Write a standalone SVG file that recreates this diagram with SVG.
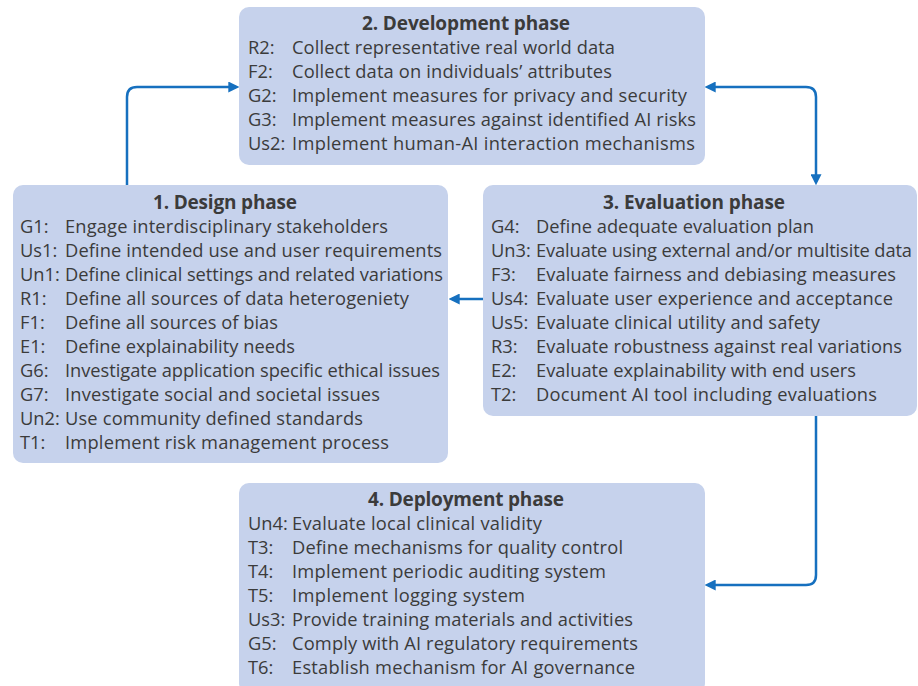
<svg xmlns="http://www.w3.org/2000/svg" width="918" height="686" viewBox="0 0 918 686">
<style>
.box{fill:#c6d2ec}
.t{font-family:"Open Sans","Noto Sans","Liberation Sans",sans-serif;font-size:18.3px;fill:#3b3b3b}
.h{font-family:"Open Sans","Noto Sans","Liberation Sans",sans-serif;font-size:19px;font-weight:bold;fill:#3b3b3b;text-anchor:middle}
.c{fill:none;stroke:#1670bf;stroke-width:2.5}
</style>
<defs>
<marker id="ah" viewBox="0 0 10 10" markerWidth="11" markerHeight="11" markerUnits="userSpaceOnUse" refX="7" refY="5" orient="auto-start-reverse">
<path d="M0,0 L10,5 L0,10 z" fill="#1670bf"/>
</marker>
</defs>
<rect width="918" height="686" fill="#ffffff"/>
<g id="connectors">
<path class="c" d="M127,185 V97 Q127,87 137,87 H236" marker-end="url(#ah)"/>
<path class="c" d="M708,87 H806 Q816,87 816,97 V182" marker-start="url(#ah)" marker-end="url(#ah)"/>
<path class="c" d="M483,299 H452" marker-end="url(#ah)"/>
<path class="c" d="M816,416 V575 Q816,585 806,585 H708" marker-end="url(#ah)"/>
</g>
<g id="development">
<rect class="box" x="239" y="7" width="466" height="158" rx="10"/>
<text class="h" x="466" y="30" textLength="208">2. Development phase</text>
<text class="t" x="248" y="54">R2:</text><text class="t" x="292" y="54" textLength="323">Collect representative real world data</text>
<text class="t" x="248" y="78">F2:</text><text class="t" x="292" y="78" textLength="320">Collect data on individuals’ attributes</text>
<text class="t" x="248" y="102">G2:</text><text class="t" x="292" y="102" textLength="395">Implement measures for privacy and security</text>
<text class="t" x="248" y="126">G3:</text><text class="t" x="292" y="126" textLength="404">Implement measures against identified AI risks</text>
<text class="t" x="248" y="150">Us2:</text><text class="t" x="292" y="150" textLength="403">Implement human-AI interaction mechanisms</text>
</g>
<g id="design">
<rect class="box" x="13" y="185" width="435" height="278" rx="10"/>
<text class="h" x="225" y="209" textLength="144">1. Design phase</text>
<text class="t" x="20" y="233">G1:</text><text class="t" x="65" y="233" textLength="323">Engage interdisciplinary stakeholders</text>
<text class="t" x="20" y="257">Us1:</text><text class="t" x="65" y="257" textLength="377">Define intended use and user requirements</text>
<text class="t" x="20" y="281">Un1:</text><text class="t" x="65" y="281" textLength="378">Define clinical settings and related variations</text>
<text class="t" x="20" y="305">R1:</text><text class="t" x="65" y="305" textLength="344">Define all sources of data heterogeniety</text>
<text class="t" x="20" y="329">F1:</text><text class="t" x="65" y="329" textLength="213">Define all sources of bias</text>
<text class="t" x="20" y="353">E1:</text><text class="t" x="65" y="353" textLength="230">Define explainability needs</text>
<text class="t" x="20" y="377">G6:</text><text class="t" x="65" y="377" textLength="375">Investigate application specific ethical issues</text>
<text class="t" x="20" y="401">G7:</text><text class="t" x="65" y="401" textLength="315">Investigate social and societal issues</text>
<text class="t" x="20" y="425">Un2:</text><text class="t" x="65" y="425" textLength="298">Use community defined standards</text>
<text class="t" x="20" y="449">T1:</text><text class="t" x="65" y="449" textLength="324">Implement risk management process</text>
</g>
<g id="evaluation">
<rect class="box" x="483" y="185" width="434" height="231" rx="10"/>
<text class="h" x="694" y="209" textLength="182">3. Evaluation phase</text>
<text class="t" x="491" y="233">G4:</text><text class="t" x="536" y="233" textLength="278">Define adequate evaluation plan</text>
<text class="t" x="491" y="257">Un3:</text><text class="t" x="536" y="257" textLength="376">Evaluate using external and/or multisite data</text>
<text class="t" x="491" y="281">F3:</text><text class="t" x="536" y="281" textLength="360">Evaluate fairness and debiasing measures</text>
<text class="t" x="491" y="305">Us4:</text><text class="t" x="536" y="305" textLength="357">Evaluate user experience and acceptance</text>
<text class="t" x="491" y="329">Us5:</text><text class="t" x="536" y="329" textLength="284">Evaluate clinical utility and safety</text>
<text class="t" x="491" y="353">R3:</text><text class="t" x="536" y="353" textLength="366">Evaluate robustness against real variations</text>
<text class="t" x="491" y="377">E2:</text><text class="t" x="536" y="377" textLength="320">Evaluate explainability with end users</text>
<text class="t" x="491" y="401">T2:</text><text class="t" x="536" y="401" textLength="341">Document AI tool including evaluations</text>
</g>
<g id="deployment">
<rect class="box" x="239" y="483" width="466" height="210" rx="10"/>
<text class="h" x="466" y="506" textLength="196">4. Deployment phase</text>
<text class="t" x="248" y="530">Un4:</text><text class="t" x="292" y="530" textLength="250">Evaluate local clinical validity</text>
<text class="t" x="248" y="554">T3:</text><text class="t" x="292" y="554" textLength="331">Define mechanisms for quality control</text>
<text class="t" x="248" y="578">T4:</text><text class="t" x="292" y="578" textLength="314">Implement periodic auditing system</text>
<text class="t" x="248" y="602">T5:</text><text class="t" x="292" y="602" textLength="233">Implement logging system</text>
<text class="t" x="248" y="626">Us3:</text><text class="t" x="292" y="626" textLength="341">Provide training materials and activities</text>
<text class="t" x="248" y="650">G5:</text><text class="t" x="292" y="650" textLength="346">Comply with AI regulatory requirements</text>
<text class="t" x="248" y="674">T6:</text><text class="t" x="292" y="674" textLength="343">Establish mechanism for AI governance</text>
</g>
</svg>
